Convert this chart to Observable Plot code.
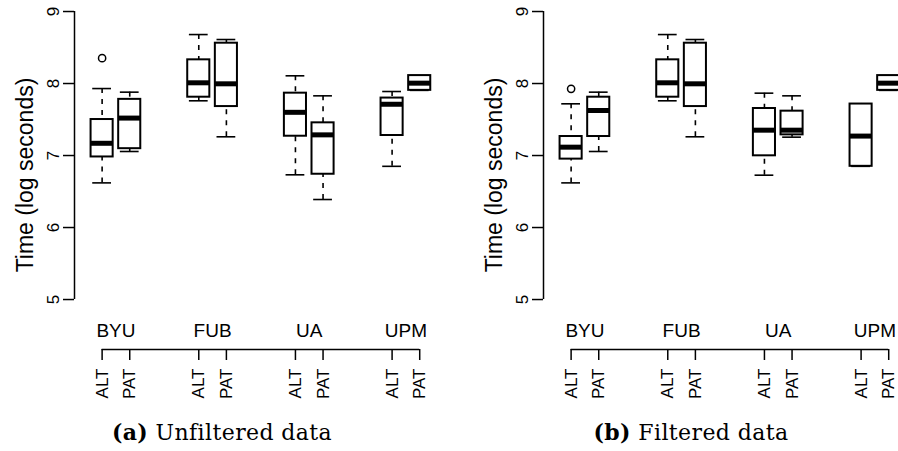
<!DOCTYPE html>
<html><head><meta charset="utf-8">
<script src="https://cdn.jsdelivr.net/npm/d3@7"></script>
<script src="https://cdn.jsdelivr.net/npm/@observablehq/plot@0.6"></script>
<style>
html,body{margin:0;padding:0;background:#fff;overflow:hidden;}
#row{display:flex;width:898px;}
.panel{width:449px;overflow:hidden;flex:none;}
.cap{font-family:"DejaVu Serif","Liberation Serif",serif;font-size:22px;color:#000;height:41px;box-sizing:border-box;padding-top:9px;text-align:center;white-space:nowrap;letter-spacing:0.4px;}
</style></head><body>
<div id="row"></div>
<script>
const groups = ["BYU", "FUB", "UA", "UPM"];
const methods = ["ALT", "PAT"];
const yTicks = [5, 6, 7, 8, 9];
const yLim = [4.306, 9.153];
const xLim = [0, 13.5];
const yTitle = "Time (log seconds)";

// order: BYU-ALT, BYU-PAT, FUB-ALT, FUB-PAT, UA-ALT, UA-PAT, UPM-ALT, UPM-PAT
const unfLow  = [6.62, 7.056, 7.76, 7.26, 6.732, 6.389, 6.85, 7.905];
const unfQ1   = [6.98, 7.095, 7.81, 7.68, 7.268, 6.74, 7.278, 7.905];
const unfMed  = [7.17, 7.52, 8.01, 7.996, 7.60, 7.287, 7.712, 8.005];
const unfQ3   = [7.50, 7.78, 8.329, 8.56, 7.866, 7.454, 7.798, 8.11];
const unfHigh = [7.93, 7.88, 8.68, 8.611, 8.107, 7.829, 7.889, 8.11];
const unfOutliers = [{group: "BYU", method: "ALT", value: 8.352}];

const filLow  = [6.62, 7.056, 7.76, 7.26, 6.727, 7.255, 6.85, 7.905];
const filQ1   = [6.95, 7.264, 7.81, 7.68, 6.996, 7.287, 6.85, 7.905];
const filMed  = [7.116, 7.625, 8.01, 7.996, 7.352, 7.352, 7.27, 8.005];
const filQ3   = [7.264, 7.81, 8.329, 8.56, 7.653, 7.616, 7.715, 8.11];
const filHigh = [7.718, 7.88, 8.68, 8.611, 7.866, 7.829, 7.715, 8.11];
const filOutliers = [{group: "BYU", method: "ALT", value: 7.926}];

const captions = [["(a)", "Unfiltered data"], ["(b)", "Filtered data"]];

function makeBoxes(low, q1, med, q3, high) {
  const out = [];
  groups.forEach((g, gi) => methods.forEach((m, mi) => {
    const i = gi * methods.length + mi;
    out.push({group: g, method: m, pos: gi * 3.5 + mi + 1,
      lo: low[i], q1: q1[i], med: med[i], q3: q3[i], hi: high[i]});
  }));
  return out;
}

function panel(b, outl, ml) {
  const unit = 27.617;
  const W = 449, H = 410;
  const half = 0.4, cap = 0.34;
  const posOf = (g, m) => b.find(d => d.group === g && d.method === m).pos;
  const outPts = outl.map(o => ({pos: posOf(o.group, o.method), value: o.value}));
  const centers = groups.map(g => ({group: g, pos: d3.mean(b.filter(d => d.group === g), d => d.pos)}));
  const first = b[0].pos, last = b[b.length - 1].pos;
  return Plot.plot({
    width: W, height: H,
    marginLeft: ml, marginRight: 0, marginTop: 0, marginBottom: H - 349,
    style: {fontFamily: "'Liberation Sans', Arial, sans-serif", color: "#000", background: "#fff", overflow: "hidden"},
    x: {domain: xLim, range: [ml, ml + (xLim[1] - xLim[0]) * unit], label: null},
    y: {domain: yLim, label: null},
    marks: [
      Plot.ruleX([xLim[0]], {y1: yTicks[0], y2: yTicks[yTicks.length - 1], strokeWidth: 1.5}),
      Plot.axisY(yTicks, {anchor: "left", tickSize: 11, tickFormat: () => null, strokeWidth: 1.5, label: null}),
      Plot.text(yTicks, {y: d => d, text: d => String(d), frameAnchor: "left", dx: -16, rotate: -90,
        textAnchor: "middle", lineAnchor: "bottom", fontSize: 17}),
      Plot.text([yTitle], {frameAnchor: "left", textAnchor: "middle", rotate: -90, dx: -49, fontSize: 23, lineAnchor: "middle"}),
      Plot.ruleY([yLim[0]], {x1: () => first, x2: () => last, strokeWidth: 1.5}),
      Plot.axisX(b.map(d => d.pos), {anchor: "bottom", tickSize: 11, tickFormat: () => null, strokeWidth: 1.5, label: null}),
      Plot.text(b, {x: "pos", text: "method", frameAnchor: "bottom", dy: 19, rotate: -90,
        textAnchor: "end", lineAnchor: "middle", fontSize: 17}),
      Plot.text(centers, {x: "pos", text: "group", frameAnchor: "bottom", textAnchor: "middle", dy: -13, lineAnchor: "bottom", fontSize: 19}),
      Plot.ruleX(b, {x: "pos", y1: "hi", y2: "q3", strokeWidth: 1.6, strokeDasharray: "5,6"}),
      Plot.ruleX(b, {x: "pos", y1: "lo", y2: "q1", strokeWidth: 1.6, strokeDasharray: "5,6"}),
      Plot.ruleY(b, {y: "hi", x1: d => d.pos - cap, x2: d => d.pos + cap, strokeWidth: 1.6}),
      Plot.ruleY(b, {y: "lo", x1: d => d.pos - cap, x2: d => d.pos + cap, strokeWidth: 1.6}),
      Plot.rect(b, {x1: d => d.pos - half, x2: d => d.pos + half, y1: "q1", y2: "q3", fill: "white", stroke: "black", strokeWidth: 2}),
      Plot.ruleY(b, {y: "med", x1: d => d.pos - half, x2: d => d.pos + half, strokeWidth: 5}),
      Plot.dot(outPts, {x: "pos", y: "value", r: 3.6, stroke: "black", fill: "none", strokeWidth: 1.5})
    ]
  });
}

const row = document.getElementById("row");
const specs = [
  {boxes: makeBoxes(unfLow, unfQ1, unfMed, unfQ3, unfHigh), outl: unfOutliers, ml: 74, pad: "padding-right:5px"},
  {boxes: makeBoxes(filLow, filQ1, filMed, filQ3, filHigh), outl: filOutliers, ml: 94, pad: "padding-left:35px"}
];
specs.forEach((s, i) => {
  const div = document.createElement("div");
  div.className = "panel";
  div.appendChild(panel(s.boxes, s.outl, s.ml));
  const c = document.createElement("div");
  c.className = "cap";
  c.setAttribute("style", s.pad);
  const bEl = document.createElement("b");
  bEl.textContent = captions[i][0];
  c.appendChild(bEl);
  c.appendChild(document.createTextNode(" " + captions[i][1]));
  div.appendChild(c);
  row.appendChild(div);
});
</script>
</body></html>
